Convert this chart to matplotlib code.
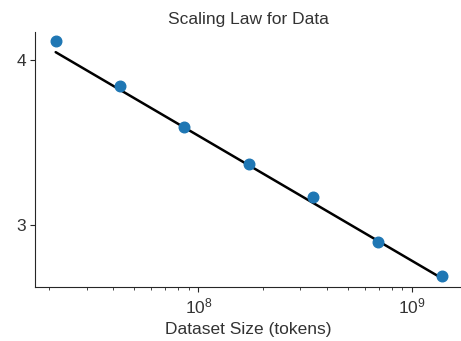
import numpy as np
import matplotlib
matplotlib.use("Agg")
import matplotlib.pyplot as plt
import matplotlib.ticker as mticker
import seaborn as sns

# measured loss at each dataset size (tokens)
dataset_sizes = [2.15e7, 4.3e7, 8.6e7, 1.72e8, 3.44e8, 6.88e8, 1.376e9]
losses = [4.134, 3.822, 3.556, 3.334, 3.146, 2.911, 2.742]

# power-law reference: L(D) = (D_c / D) ** alpha_D
D_c = 5.4e13
alpha_D = 0.095

sns.set_style("ticks")
plt.rcParams['font.family'] = ['Liberation Sans', 'DejaVu Sans']
plt.rcParams['mathtext.default'] = 'regular'

law = (D_c / np.array(dataset_sizes)) ** alpha_D

fig, ax = plt.subplots(figsize=(4.61, 3.41), dpi=100)
ax.plot(dataset_sizes, law, color='black', linewidth=1.8, zorder=2)
ax.scatter(dataset_sizes, losses, s=58, color='#1f77b4', zorder=3)

ax.set_xscale('log')
ax.set_yscale('log')
ax.set_xlim(1.73e7, 1.69e9)
ax.set_ylim(2.69, 4.2)
ax.yaxis.set_major_locator(mticker.FixedLocator([3, 4]))
ax.yaxis.set_major_formatter(mticker.FormatStrFormatter('%d'))
ax.yaxis.set_minor_locator(mticker.NullLocator())

ax.set_title('Scaling Law for Data', fontsize=12.5, color='0.2')
ax.set_xlabel('Dataset Size (tokens)', fontsize=12.5, color='0.2')
ax.tick_params(axis='both', which='major', labelsize=12.5, labelcolor='0.2')
sns.despine(ax=ax)

fig.subplots_adjust(left=0.077, right=1.0, bottom=0.158, top=0.906)
fig.savefig('out.png', dpi=100)
